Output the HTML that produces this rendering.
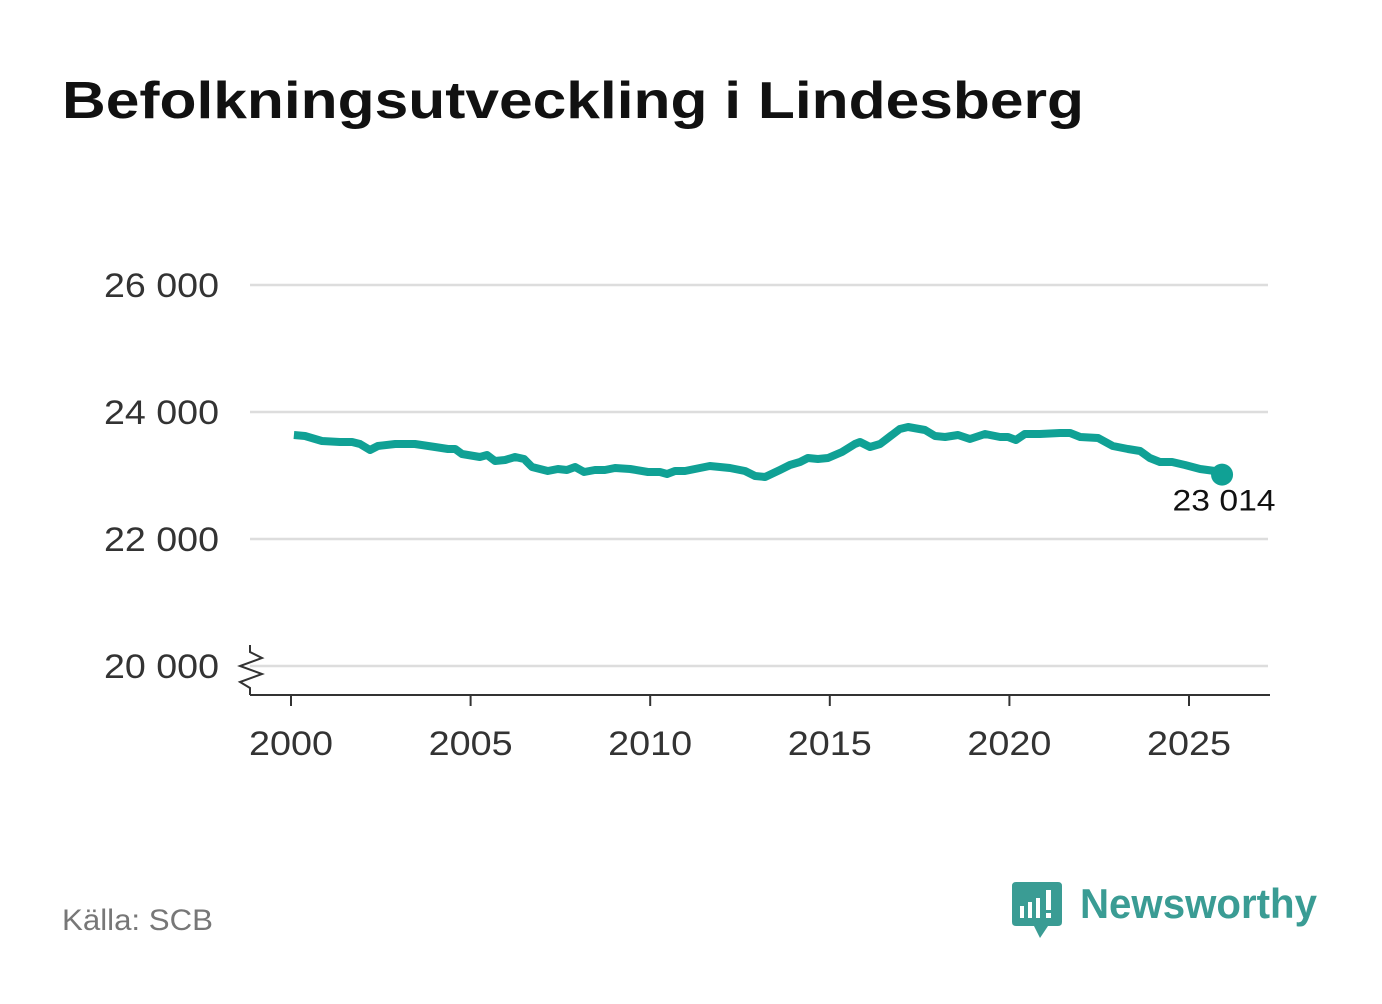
<!DOCTYPE html>
<html><head><meta charset="utf-8"><style>
body{margin:0;background:#fff;width:1382px;height:999px;overflow:hidden;font-family:"Liberation Sans",sans-serif}
</style></head><body>
<svg width="1382" height="999">
<text x="62" y="118" font-size="52" font-weight="bold" fill="#111" textLength="1022" lengthAdjust="spacingAndGlyphs">Befolkningsutveckling i Lindesberg</text>
<g id="grid"></g>
<g id="yt"></g>
<g id="xt"></g>
<line x1="250" y1="695" x2="1270" y2="695" stroke="#333" stroke-width="2"/>
<path d="M250 645 L250 652 L262 658 L240 666 L262 674 L240 682 L250 688 L250 695" fill="none" stroke="#333" stroke-width="2"/>
<path id="line" fill="none" stroke="#10a195" stroke-width="8" stroke-linejoin="round"/>
<circle id="dot" r="11" fill="#10a195"/>
<text id="lbl" font-size="30" fill="#111" text-anchor="middle" textLength="103" lengthAdjust="spacingAndGlyphs"></text>
<text x="62" y="930" font-size="30" fill="#777" textLength="151" lengthAdjust="spacingAndGlyphs">Källa: SCB</text>
<g>
<path d="M1016 882 H1058 Q1062 882 1062 886 V922 Q1062 926 1058 926 H1048 L1040 938 L1034 926 H1016 Q1012 926 1012 922 V886 Q1012 882 1016 882Z" fill="#3a9c94"/>
<rect x="1020" y="906" width="4" height="12" fill="#fff"/><rect x="1028" y="902" width="4" height="16" fill="#fff"/><rect x="1036" y="898" width="4" height="20" fill="#fff"/><rect x="1046" y="890" width="5" height="20" fill="#fff"/><rect x="1046" y="913" width="5" height="5" fill="#fff"/>
<text x="1080" y="918" font-size="42" font-weight="bold" fill="#3a9c94" textLength="237" lengthAdjust="spacingAndGlyphs">Newsworthy</text>
</g>
</svg>
<script>
const years=[2000.08,2000.39,2000.86,2001.36,2001.70,2001.92,2002.20,2002.42,2002.90,2003.45,2004.01,2004.37,2004.57,2004.76,2005.26,2005.46,2005.68,2005.96,2006.24,2006.49,2006.71,2007.15,2007.43,2007.68,2007.91,2008.16,2008.46,2008.74,2009.02,2009.44,2009.94,2010.27,2010.47,2010.69,2010.97,2011.66,2011.94,2012.22,2012.64,2012.92,2013.20,2013.61,2013.89,2014.17,2014.39,2014.67,2014.95,2015.34,2015.70,2015.84,2016.12,2016.40,2016.95,2017.18,2017.65,2017.93,2018.21,2018.57,2018.90,2019.32,2019.74,2019.96,2020.18,2020.43,2020.85,2021.41,2021.69,2021.97,2022.47,2022.88,2023.30,2023.64,2023.91,2024.19,2024.53,2024.89,2025.31,2025.72,2025.92];
const values=[23638,23622,23543,23528,23528,23496,23402,23465,23496,23496,23449,23417,23417,23339,23291,23323,23228,23244,23291,23260,23134,23071,23102,23087,23134,23055,23087,23087,23118,23102,23055,23055,23024,23071,23071,23150,23134,23118,23071,22992,22976,23087,23165,23213,23276,23260,23276,23370,23496,23528,23449,23496,23732,23764,23717,23622,23606,23638,23575,23654,23606,23606,23559,23654,23654,23669,23669,23606,23591,23465,23417,23386,23276,23213,23213,23165,23102,23071,23014];
const yTicks=[20000,22000,24000,26000];
const yLabels=["20 000","22 000","24 000","26 000"];
const xTicks=[2000,2005,2010,2015,2020,2025];
const X=t=>291+(t-2000)*35.92;
const Y=v=>666-(v-20000)*(381/6000);
const NS="http://www.w3.org/2000/svg";
const grid=document.getElementById('grid'),yt=document.getElementById('yt'),xt=document.getElementById('xt');
yTicks.forEach((v,i)=>{
 const l=document.createElementNS(NS,'line');
 
 
 l.setAttribute('x1',250);l.setAttribute('x2',1268);l.setAttribute('y1',Y(v));l.setAttribute('y2',Y(v));
 l.setAttribute('stroke','#ddd');l.setAttribute('stroke-width','2.5');grid.appendChild(l);
 const t=document.createElementNS(NS,'text');
 
 
 t.setAttribute('x',219);t.setAttribute('y',Y(v)+12);t.setAttribute('text-anchor','end');
 t.setAttribute('textLength','115');t.setAttribute('lengthAdjust','spacingAndGlyphs');
 t.setAttribute('font-size','34');t.setAttribute('fill','#333');t.textContent=yLabels[i];yt.appendChild(t);
});
xTicks.forEach(v=>{
 const l=document.createElementNS(NS,'line');
 
 
 l.setAttribute('x1',X(v));l.setAttribute('x2',X(v));l.setAttribute('y1',695);l.setAttribute('y2',706);
 l.setAttribute('stroke','#333');l.setAttribute('stroke-width','2');xt.appendChild(l);
 const t=document.createElementNS(NS,'text');
 
 
 t.setAttribute('x',X(v));t.setAttribute('y',755);t.setAttribute('text-anchor','middle');
 t.setAttribute('textLength','84');t.setAttribute('lengthAdjust','spacingAndGlyphs');
 t.setAttribute('font-size','34');t.setAttribute('fill','#333');t.textContent=v;xt.appendChild(t);
});
document.getElementById('line').setAttribute('d',years.map((t,i)=>(i?'L':'M')+X(t).toFixed(1)+' '+Y(values[i]).toFixed(1)).join(' '));
const n=years.length-1,d=document.getElementById('dot');
d.setAttribute('cx',X(years[n]));d.setAttribute('cy',Y(values[n]));
const lb=document.getElementById('lbl');
lb.setAttribute('x',X(years[n])+2);lb.setAttribute('y',Y(values[n])+36);
lb.textContent=values[n].toLocaleString('sv-SE').replace(/\s/g,' ');
</script>
</body></html>
